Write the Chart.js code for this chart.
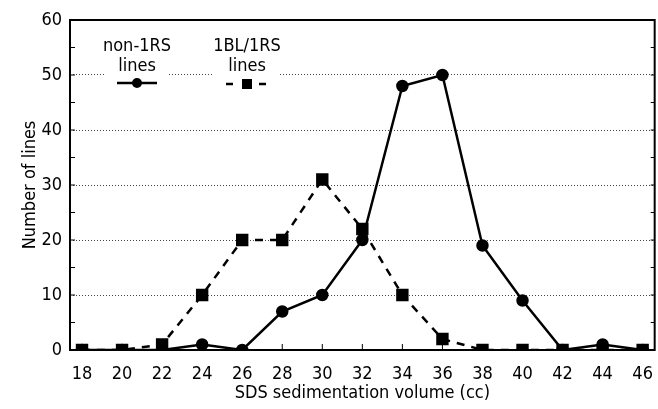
<!DOCTYPE html>
<html>
<head>
<meta charset="utf-8">
<script src="https://cdn.jsdelivr.net/npm/chart.js@4.4.1/dist/chart.umd.min.js"></script>
<style>
  html, body { margin: 0; padding: 0; background: #fff; }
  #wrap { width: 658px; height: 409px; }
</style>
</head>
<body>
<div id="wrap"><canvas id="chart"></canvas></div>
<script>
// values
const sdsVolume = [18, 20, 22, 24, 26, 28, 30, 32, 34, 36, 38, 40, 42, 44, 46];
const non1RS = [0, 0, 0, 1, 0, 7, 10, 20, 48, 50, 19, 9, 0, 1, 0];
const bl1RS = [0, 0, 1, 10, 20, 20, 31, 22, 10, 2, 0, 0, 0, 0, 0];
const yTicks = [0, 10, 20, 30, 40, 50, 60];
const FONT = '"DejaVu Sans Condensed", "DejaVu Sans", sans-serif';

const toPoints = (vals) => sdsVolume.map((x, i) => ({ x: x, y: vals[i] }));

// frame, inward ticks and the in-plot key
const framePlugin = {
  id: 'frame',
  beforeDatasetsDraw(chart) {
    const { ctx, chartArea: a, scales } = chart;
    ctx.save();
    ctx.strokeStyle = '#000';
    ctx.lineWidth = 2;
    ctx.strokeRect(a.left, a.top, a.right - a.left, a.bottom - a.top);
    ctx.lineWidth = 1;
    // x ticks pointing up
    sdsVolume.forEach(v => {
      const x = scales.x.getPixelForValue(v);
      ctx.beginPath(); ctx.moveTo(x, a.bottom); ctx.lineTo(x, a.bottom - 6); ctx.stroke();
    });
    // y ticks every 5, pointing right
    for (let v = 0; v <= 60; v += 5) {
      const y = scales.y.getPixelForValue(v);
      ctx.beginPath(); ctx.moveTo(a.left, y); ctx.lineTo(a.left + 5, y); ctx.stroke();
      ctx.beginPath(); ctx.moveTo(a.right, y); ctx.lineTo(a.right - 4, y); ctx.stroke();
    }
    // key
    ctx.fillStyle = '#fff';
    ctx.fillRect(106, 36, 62, 44);
    ctx.fillRect(214, 36, 66, 44);
    ctx.fillStyle = '#000';
    ctx.font = '18px ' + FONT;
    ctx.textAlign = 'center';
    ctx.textBaseline = 'middle';
    ctx.fillText('non-1RS', 137, 46);
    ctx.fillText('lines', 137, 66);
    ctx.fillText('1BL/1RS', 247, 46);
    ctx.fillText('lines', 247, 66);
    ctx.lineWidth = 2.5;
    ctx.beginPath(); ctx.moveTo(117, 83); ctx.lineTo(157, 83); ctx.stroke();
    ctx.beginPath(); ctx.arc(137, 83, 5, 0, Math.PI * 2); ctx.fill();
    ctx.beginPath(); ctx.moveTo(226, 84); ctx.lineTo(233, 84); ctx.moveTo(259, 84); ctx.lineTo(266, 84); ctx.stroke();
    ctx.fillRect(242, 79, 10, 10);
    ctx.restore();
  }
};

new Chart(document.getElementById('chart'), {
  type: 'line',
  data: {
    datasets: [
      {
        label: 'non-1RS lines',
        data: toPoints(non1RS),
        borderColor: '#000',
        backgroundColor: '#000',
        borderWidth: 2.5,
        pointStyle: 'circle',
        pointRadius: 5,
        tension: 0
      },
      {
        label: '1BL/1RS lines',
        data: toPoints(bl1RS),
        borderColor: '#000',
        backgroundColor: '#000',
        borderWidth: 2.5,
        borderDash: [8, 7],
        pointStyle: 'rect',
        pointRadius: 7,
        tension: 0
      }
    ]
  },
  options: {
    responsive: true,
    maintainAspectRatio: false,
    animation: false,
    layout: { autoPadding: false, padding: { top: 20, right: 2, left: 0, bottom: 0 } },
    plugins: { legend: { display: false }, tooltip: { enabled: false } },
    scales: {
      x: {
        type: 'linear',
        min: 17.4,
        max: 46.6,
        afterBuildTicks: (axis) => { axis.ticks = sdsVolume.map(v => ({ value: v })); },
        afterFit: (axis) => { axis.height = 59; },
        grid: { display: false, drawTicks: false },
        border: { display: false },
        ticks: { color: '#000', font: { family: FONT, size: 18, lineHeight: 2.2 }, padding: 5, maxRotation: 0, autoSkip: false },
        title: { display: true, text: 'SDS sedimentation volume (cc)', color: '#000', font: { family: FONT, size: 18 }, padding: { top: 0, bottom: 5 } }
      },
      y: {
        min: 0,
        max: 60,
        afterBuildTicks: (axis) => { axis.ticks = yTicks.map(v => ({ value: v })); },
        afterFit: (axis) => { axis.width = 70; },
        grid: { color: '#444', lineWidth: 1, drawTicks: false },
        border: { display: false, dash: [1, 2] },
        ticks: { color: '#000', font: { family: FONT, size: 18 }, padding: 8 },
        title: { display: true, text: 'Number of lines', color: '#000', font: { family: FONT, size: 18 }, padding: { top: 20, bottom: 0 } }
      }
    }
  },
  plugins: [framePlugin]
});
</script>
</body>
</html>
